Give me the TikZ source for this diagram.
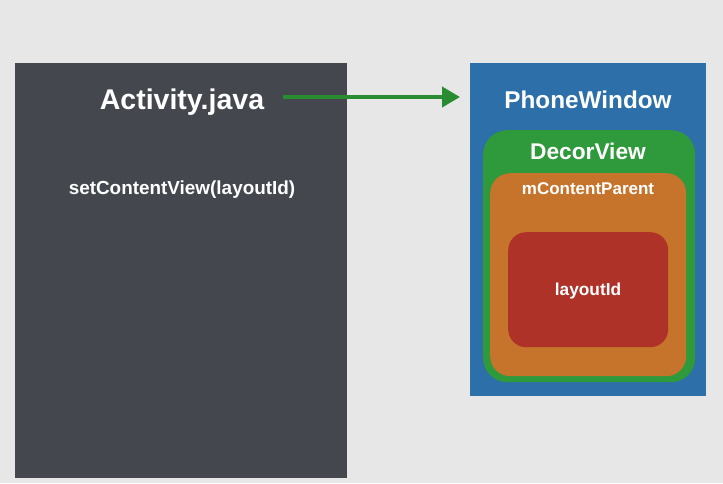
\documentclass[tikz,border=0pt]{standalone}
\usepackage{fontspec}
\setmainfont{Liberation Sans}
\usetikzlibrary{arrows.meta}
\definecolor{bg}{HTML}{E6E7E6}
\definecolor{darkbox}{HTML}{44474E}
\definecolor{bluebox}{HTML}{2C6FA9}
\definecolor{greenbox}{HTML}{2F9A3B}
\definecolor{orangebox}{HTML}{C6732B}
\definecolor{redbox}{HTML}{AE3228}
\definecolor{arrowgreen}{HTML}{2A8C30}
\tikzset{
  lbl/.style={text=white, font=\bfseries, inner sep=0pt},
  panel/.style={fill=#1, draw=none},
}
\begin{document}
\begin{tikzpicture}[x=1pt,y=-1pt]
\fill[bg] (0,0) rectangle (723,483);
\useasboundingbox (0,0) rectangle (723,483);
% left panel
\node[panel=darkbox, minimum width=332pt, minimum height=415pt, anchor=north west, inner sep=0pt] (activitybox) at (15,63) {};
\node[lbl, font=\bfseries\fontsize{28.5}{32}\selectfont] (activity) at (182,102) {Activity.java};
\node[lbl, font=\bfseries\fontsize{18.9}{22}\selectfont] (setcv) at (182,190) {setContentView(layoutId)};
% right panel
\node[panel=bluebox, minimum width=236pt, minimum height=333pt, anchor=north west, inner sep=0pt] (phonebox) at (470,63) {};
\node[panel=greenbox, rounded corners=24pt, minimum width=212pt, minimum height=252pt, anchor=north west, inner sep=0pt] (decorbox) at (483,130) {};
\node[panel=orangebox, rounded corners=20pt, minimum width=196pt, minimum height=203pt, anchor=north west, inner sep=0pt] (contentbox) at (490,173) {};
\node[panel=redbox, rounded corners=18pt, minimum width=160pt, minimum height=115pt, anchor=north west, inner sep=0pt] (layoutbox) at (508,232) {};
\node[lbl, font=\bfseries\fontsize{24.3}{28}\selectfont] (phone) at (588,100) {PhoneWindow};
\node[lbl, font=\bfseries\fontsize{22.7}{26}\selectfont] (decor) at (588,151) {DecorView};
\node[lbl, font=\bfseries\fontsize{17}{20}\selectfont] (mcp) at (588,189) {mContentParent};
\node[lbl, font=\bfseries\fontsize{17.3}{20}\selectfont] (layout) at (588,291) {layoutId};
% arrow
\coordinate (arrowstart) at (283,97);
\coordinate (arrowend) at (460,97);
\draw[arrowgreen, line width=4pt, -{Triangle[length=18pt,width=20pt]}] (arrowstart) -- (arrowend);
\end{tikzpicture}
\end{document}
